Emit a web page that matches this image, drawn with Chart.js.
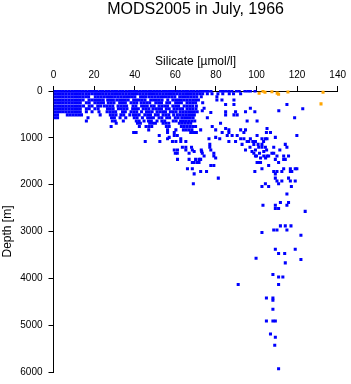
<!DOCTYPE html>
<html><head><meta charset="utf-8">
<script src="https://cdn.jsdelivr.net/npm/chart.js@4.4.0/dist/chart.umd.min.js"></script>
<style>html,body{margin:0;padding:0;background:#fff;}canvas{display:block;}</style>
</head><body>
<canvas id="c" width="351" height="384"></canvas>
<script>
const titleText = "MODS2005 in July, 1966";
const xTitle = "Silicate [µmol/l]";
const yTitle = "Depth [m]";
const xTicks = [0, 20, 40, 60, 80, 100, 120, 140];
const yTicks = [0, 1000, 2000, 3000, 4000, 5000, 6000];

// Blue (accepted) observations, grouped by depth level [m]: silicate values [µmol/l]
const depthLevels = [0,60,125,190,250,290,320,370,380,420,445,460,510,570,640,690,760,800,830,885,950,990,1020,1080,1140,1200,1260,1290,1330,1390,1430,1460,1525,1590,1660,1720,1770,1860,1920,1980,2040,2200,2380,2440,2510,2570,2880,2970,3020,3080,3380,3470,3570,3600,3670,3920,3970,4130,4420,4470,4660,4910,5190,5260,5430,5930];
const silicateAtLevel = [
 [0.6,2,3.4,4.8,6.2,7.6,9,10.4,11.8,13.2,14.5,15.9,17.4,18.7,20.2,21.5,23.1,24.4,25.9,27.2,28.7,30.1,31.4,32.9,34.2,35.7,37.1,38.4,39.9,41.2,42.7,44.1,45.4,46.9,48.2,49.7,51.1,52.4,53.9,55.2,56.7,58.1,59.4,60.9,62.2,63.7,65.1,66.4,67.9,69.2,70.7,72.1,73.4,74.9,76.2,77.6,82.3,83.7,85.1,86.5,87.9,90.1,91.5,94.3,95.7,97,99.3],
 [0.6,2,3.4,4.8,6.2,7.6,9,10.4,11.8,13.2,14.6,16.1,17.4,18.9,20.3,21.7,23.1,24.5,25.9,27.3,28.7,30.1,31.5,32.9,34.3,35.7,37.1,38.5,39.9,41.3,42.7,44.1,45.5,46.9,48.3,49.7,51.1,52.5,53.9,55.3,56.7,58.1,59.5,60.9,62.3,63.7,65.1,66.5,67.9,69.3,70.7,72.1,73.5,75.8,78.1,81,83.4,86.6,88.7,92.2],
 [0.6,2,3.4,4.8,6.2,7.6,9,10.4,11.8,13.2,14.6,16,17.3,20.6,22,23.4,24.8,26.2,27.6,29,30.4,31.8,33.2,34.6,36,37.4,38.8,40.1,42.9,44.3,45.6,47.2,48.6,50,51.4,52.8,54.2,55.6,57,58.4,59.8,62.2,63.6,65,66.4,67.8,69.2,70.6,72.8,80.5],
 [0.6,2,3.4,4.8,6.2,7.6,9,10.4,11.8,13.2,14.6,17.5,18.9,20.3,21.7,23.1,24.5,26.7,28.1,29.5,31.2,32.6,34,35.4,36.8,39.5,40.9,42.3,43.7,45.1,47.9,49.3,50.7,52.1,53.5,56.3,58.8,60.2,61.6,63,64.4,65.8,67.2,68.6,70,71.4,80.5,83,88.9],
 [0.6,2,3.4,4.8,6.2,7.6,9,10.4,11.8,13.2,16.2,17.6,20.4,21.8,23.2,24.6,27,28.4,29.8,32.6,34,35.4,38.2,39.6,41,43.2,44.6,46,47.4,50.4,51.8,53.2,55.8,57.2,60.2,61.6,63,65.8,67.2,68.6,70,73.5],
 [84.8,88.9,115],
 [0.6,2,3.4,4.8,6.2,7.6,9,10.4,11.8,13.2,14.8,17.6,19,21.8,23.2,25,26.4,27.8,29.2,31.8,33.2,34.6,36,39.2,40.6,43.4,44.8,46.2,48.2,49.6,52,53.4,54.8,56.2,58.8,60.2,61.6,64.4,65.8,67.2,68.6,70.4],
 [74.2,97],
 [0.6,2,3.4,4.8,6.2,7.6,9,10.4,11.8,13.2,16.2,17.6,20.4,22,26.6,28,29.4,32,33.4,34.8,36.2,39,40.4,41.8,44.2,45.6,47,49,50.4,51.8,53.2,55.6,57,59.4,60.8,62.2,63.6,65.8,67.2,68.6,70.2,122.8],
 [73.3,111],
 [0.6,2,3.4,4.8,6.2,7.6,9,10.4,11.8,13.2,16.2,19,22.4,26.4,27.8,29.2,30.6,34,35.4,38.2,39.6,41,43.4,45.8,47.2,48.6,51,52.4,53.8,55.2,57.6,59,60.4,62.4,63.8,65.2,66.6,68,69.4,70.8,84.8,89.7,94.6,99.2],
 [77.5],
 [0.6,2,6.8,8.2,9.6,11,12.4,13.8,23,28,29.4,30.8,33.2,34.6,37.6,39.4,40.8,42.2,45,46.4,47.8,50.2,51.6,54,55.4,56.8,59.2,61,62.4,63.8,65.2,66.6,68,69.4,84.8,88.9,90.5],
 [0.6,2,17,28.6,30,32.8,35.6,39.8,41.2,43.8,46.4,47.8,49.2,52,53.4,55.8,57.2,60,61.4,63.2,64.6,66,67.4,68.8,75.8,118.8],
 [16.2,29,30.4,34.4,40.8,42.2,44.6,46.8,48.2,51,53.4,54.8,59,60.4,62.6,64,65.4,66.8,68.2,69.6,95.4,100.3],
 [30.9,41.4,42.8,47.4,48.8,50.2,54,55.4,56.8,62,63.4,64.8,66.2,67.6,82.3],
 [28.4,42.3,45.6,47,48.4,55.6,57,63,64.4,65.8,67.2,68.6,70,78.2],
 [84.8,105.2],
 [46.9,56.2,60.3,64,65.4,66.8,68.2,72.5,79.9,86.4,92.2,94.6],
 [39.5,40.7,56.2,59.5,67.6,69,70.4,83.1,86.4,93.8,104.9,106.9],
 [52.1,59.5,61,85.6,88,90.5,100.3,119.9],
 [57,79.9,109.3],
 [56.2,62.7,76.6,81.9,92.2,93.8,97,102.7,104.4,105.2],
 [45.2,52.4,58.6,60.3,62.7,65.2,86.4,89.7,95.4,96.2,98.2,99.5,103.5],
 [77,92.9,98.7,100.8,102.7,114.2],
 [63.5,65.2,68,77,96.8,101.1,102.7,104.4,108.5,115],
 [59.5,61.1,65.2,68.4,72.8,77.5,94.6,99.5,105,111.5],
 [69.3,73,97.8,103.6],
 [60,61,66.8,73.3,79,98.7,101.5,107.6,108.5],
 [74.2,79,99.5,100,103.6,105.2,106,110.1,113.4,115.8],
 [79.9,102,104.5],
 [61.1,66.8,70,71.7,72.5,109.3,113.4,114.2],
 [68.4,69.3,70.9,71.7,100.3,101.1,102,110.9],
 [77.5,79,106],
 [66,68.4,102.7,113.4,116.7,119.1,119.9],
 [72.5,75.4,99.2,108.5,110.1,112.5,116.7,117.4],
 [69.3,109.3],
 [81.2,109.3,115.8],
 [110.1,112.5,116.7,119.1],
 [68.9,104.4,110.9],
 [102.7,106,117.2],
 [115],
 [111.8,115.8],
 [103.2,109.3,115],
 [109.3,110.9],
 [124],
 [111.8,114.2,117],
 [108.5,110.1,115],
 [102.7],
 [121.9],
 [109.3,119.1],
 [110.9,113.9],
 [99.8],
 [121.9],
 [114.2],
 [108.1],
 [110.9,113],
 [91,110.9],
 [104.9,108.1],
 [108.1],
 [108.1],
 [104.9,108.1,109.3],
 [106.9],
 [109.3],
 [109],
 [110.9]
];

// Orange (flagged) observations
const flaggedSilicate = [101.3, 103.2, 104.2, 107.6, 110.2, 110.9, 115.5, 132.8, 131.8];
const flaggedDepth    = [49, 5, 28, 14, 45, 70, 21, 28, 275];

const FONT = "'Liberation Sans', Arial, Helvetica, sans-serif";

const bluePts = [];
depthLevels.forEach((d, i) => silicateAtLevel[i].forEach(v => bluePts.push({x: v, y: d})));
const orangePts = flaggedSilicate.map((v, i) => ({x: v, y: flaggedDepth[i]}));

const titlePlugin = {
  id: 'mainTitle',
  afterDraw(chart) {
    const ctx = chart.ctx, a = chart.chartArea;
    ctx.save();
    ctx.fillStyle = '#000';
    ctx.font = '16px ' + FONT;
    ctx.textAlign = 'center';
    ctx.textBaseline = 'alphabetic';
    ctx.fillText(titleText, (a.left + a.right) / 2, 13.5);
    ctx.restore();
  }
};

const pointOpts = {pointStyle: 'rect', pointRadius: 2.15, pointHoverRadius: 2.15, pointBorderWidth: 0, showLine: false,
  clip: {left: 0, top: 1, right: 3, bottom: 3}};

new Chart(document.getElementById('c'), {
  type: 'scatter',
  data: {datasets: [
    Object.assign({data: bluePts, backgroundColor: '#0000ff', borderColor: '#0000ff'}, pointOpts),
    Object.assign({data: orangePts, backgroundColor: '#ffa500', borderColor: '#ffa500'}, pointOpts)
  ]},
  options: {
    responsive: false, animation: false, devicePixelRatio: 1,
    layout: {padding: {top: 54, left: 0, right: 11.5, bottom: 9.3}},
    plugins: {legend: {display: false}, tooltip: {enabled: false}, title: {display: false}},
    scales: {
      x: {
        type: 'linear', position: 'top', min: 0, max: 140,
        afterBuildTicks: s => { s.ticks = xTicks.map(v => ({value: v})); },
        afterFit: s => { s.height = 37; },
        ticks: {font: {family: FONT, size: 10}, color: '#000', padding: 5, maxRotation: 0, callback: v => String(v)},
        grid: {drawOnChartArea: false, drawTicks: true, tickLength: 5, color: '#000', lineWidth: 1},
        border: {display: true, color: '#000', width: 1},
        title: {display: true, text: xTitle, font: {family: FONT, size: 12}, color: '#000', padding: 0}
      },
      y: {
        type: 'linear', position: 'left', reverse: true, min: 0, max: 6000,
        afterBuildTicks: s => { s.ticks = yTicks.map(v => ({value: v})); },
        afterFit: s => { s.width = 53.5; },
        ticks: {font: {family: FONT, size: 10}, color: '#000', padding: 6, callback: v => String(v)},
        grid: {drawOnChartArea: false, drawTicks: true, tickLength: 5, color: '#000', lineWidth: 1},
        border: {display: true, color: '#000', width: 1},
        title: {display: true, text: yTitle, font: {family: FONT, size: 12}, color: '#000', padding: 0}
      }
    }
  },
  plugins: [titlePlugin]
});
</script>
</body></html>
